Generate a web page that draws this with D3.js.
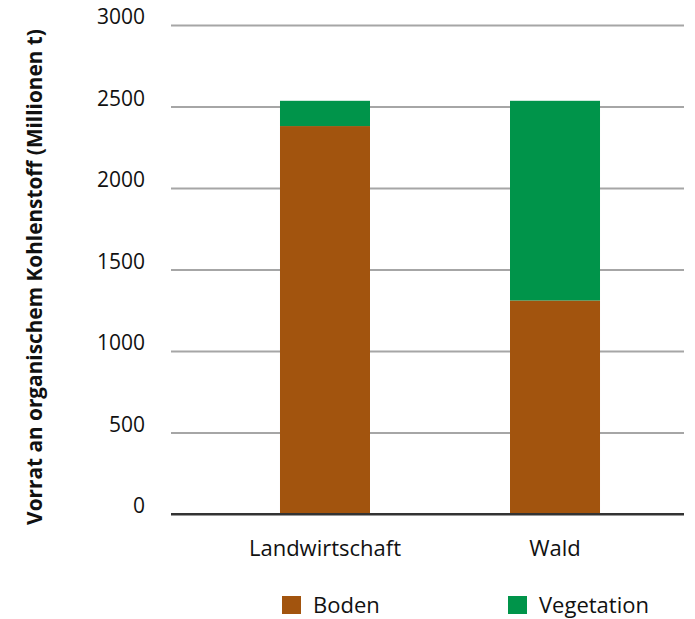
<!DOCTYPE html>
<html><head><meta charset="utf-8">
<script src="https://cdn.jsdelivr.net/npm/d3@7"></script>
<style>body{margin:0;background:#fff}svg{display:block}text{font-family:"Open Sans",sans-serif;fill:#111}</style>
</head><body><svg id="c" width="695" height="619"></svg>
<script>
const categories = ["Landwirtschaft", "Wald"];
const seriesNames = ["Boden", "Vegetation"];
const boden = [2380, 1310];
const vegetation = [155, 1225];
const yTicks = [0, 500, 1000, 1500, 2000, 2500, 3000];
const yTitle = "Vorrat an organischem Kohlenstoff (Millionen t)";
const colors = ["#A2540E", "#00944A"];

const svg = d3.select("#c");
const y = d3.scaleLinear().domain([0, 3000]).range([514, 25]);
const x = d3.scaleBand().domain(categories).range([210, 670]).paddingInner(0.6087).paddingOuter(0.3043);
const gx0 = 171, gx1 = 684;

const rows = categories.map((c, i) => ({cat: c, Boden: boden[i], Vegetation: vegetation[i]}));
const stack = d3.stack().keys(seriesNames)(rows);

// gridlines
const yAxis = d3.axisLeft(y).tickValues(yTicks).tickSize(-(gx1 - gx0)).tickFormat("");
const ga = svg.append("g").attr("transform", `translate(${gx0},0)`).call(yAxis);
ga.select(".domain").remove();
ga.selectAll(".tick line").attr("stroke", d => d === 0 ? "#333" : "#a6a6a6").attr("stroke-width", 2);

// tick labels
svg.append("g").selectAll("text").data(yTicks).join("text")
  .attr("x", 145).attr("y", d => y(d) - 1)
  .attr("text-anchor", "end").attr("font-size", 21).attr("font-weight", 500).text(d => d);

// bars
svg.append("g").selectAll("g").data(stack).join("g")
  .attr("fill", (d, i) => colors[i])
  .selectAll("rect").data(d => d).join("rect")
  .attr("x", d => x(d.data.cat)).attr("width", x.bandwidth())
  .attr("y", d => y(d[1])).attr("height", d => y(d[0]) - y(d[1]));

// baseline over bars
svg.append("line").attr("x1", gx0).attr("x2", gx1).attr("y1", y(0)).attr("y2", y(0)).attr("stroke", "#333").attr("stroke-width", 2);

// x labels
svg.append("g").selectAll("text").data(categories).join("text")
  .attr("x", d => x(d) + x.bandwidth() / 2).attr("y", 556)
  .attr("text-anchor", "middle").attr("font-size", 22).attr("font-weight", 500).text(d => d);

// y title
svg.append("text").attr("transform", "translate(42,277) rotate(-90)")
  .attr("text-anchor", "middle").attr("font-size", 20.8).attr("font-weight", "bold").text(yTitle);

// legend
const legX = [282, 508];
const lg = svg.append("g").selectAll("g").data(seriesNames).join("g")
  .attr("transform", (d, i) => `translate(${legX[i]},596)`);
lg.append("rect").attr("width", 19).attr("height", 18).attr("fill", (d, i) => colors[i]);
lg.append("text").attr("x", 31).attr("y", 17).attr("font-size", 22).attr("font-weight", 500).text(d => d);
</script></body></html>
